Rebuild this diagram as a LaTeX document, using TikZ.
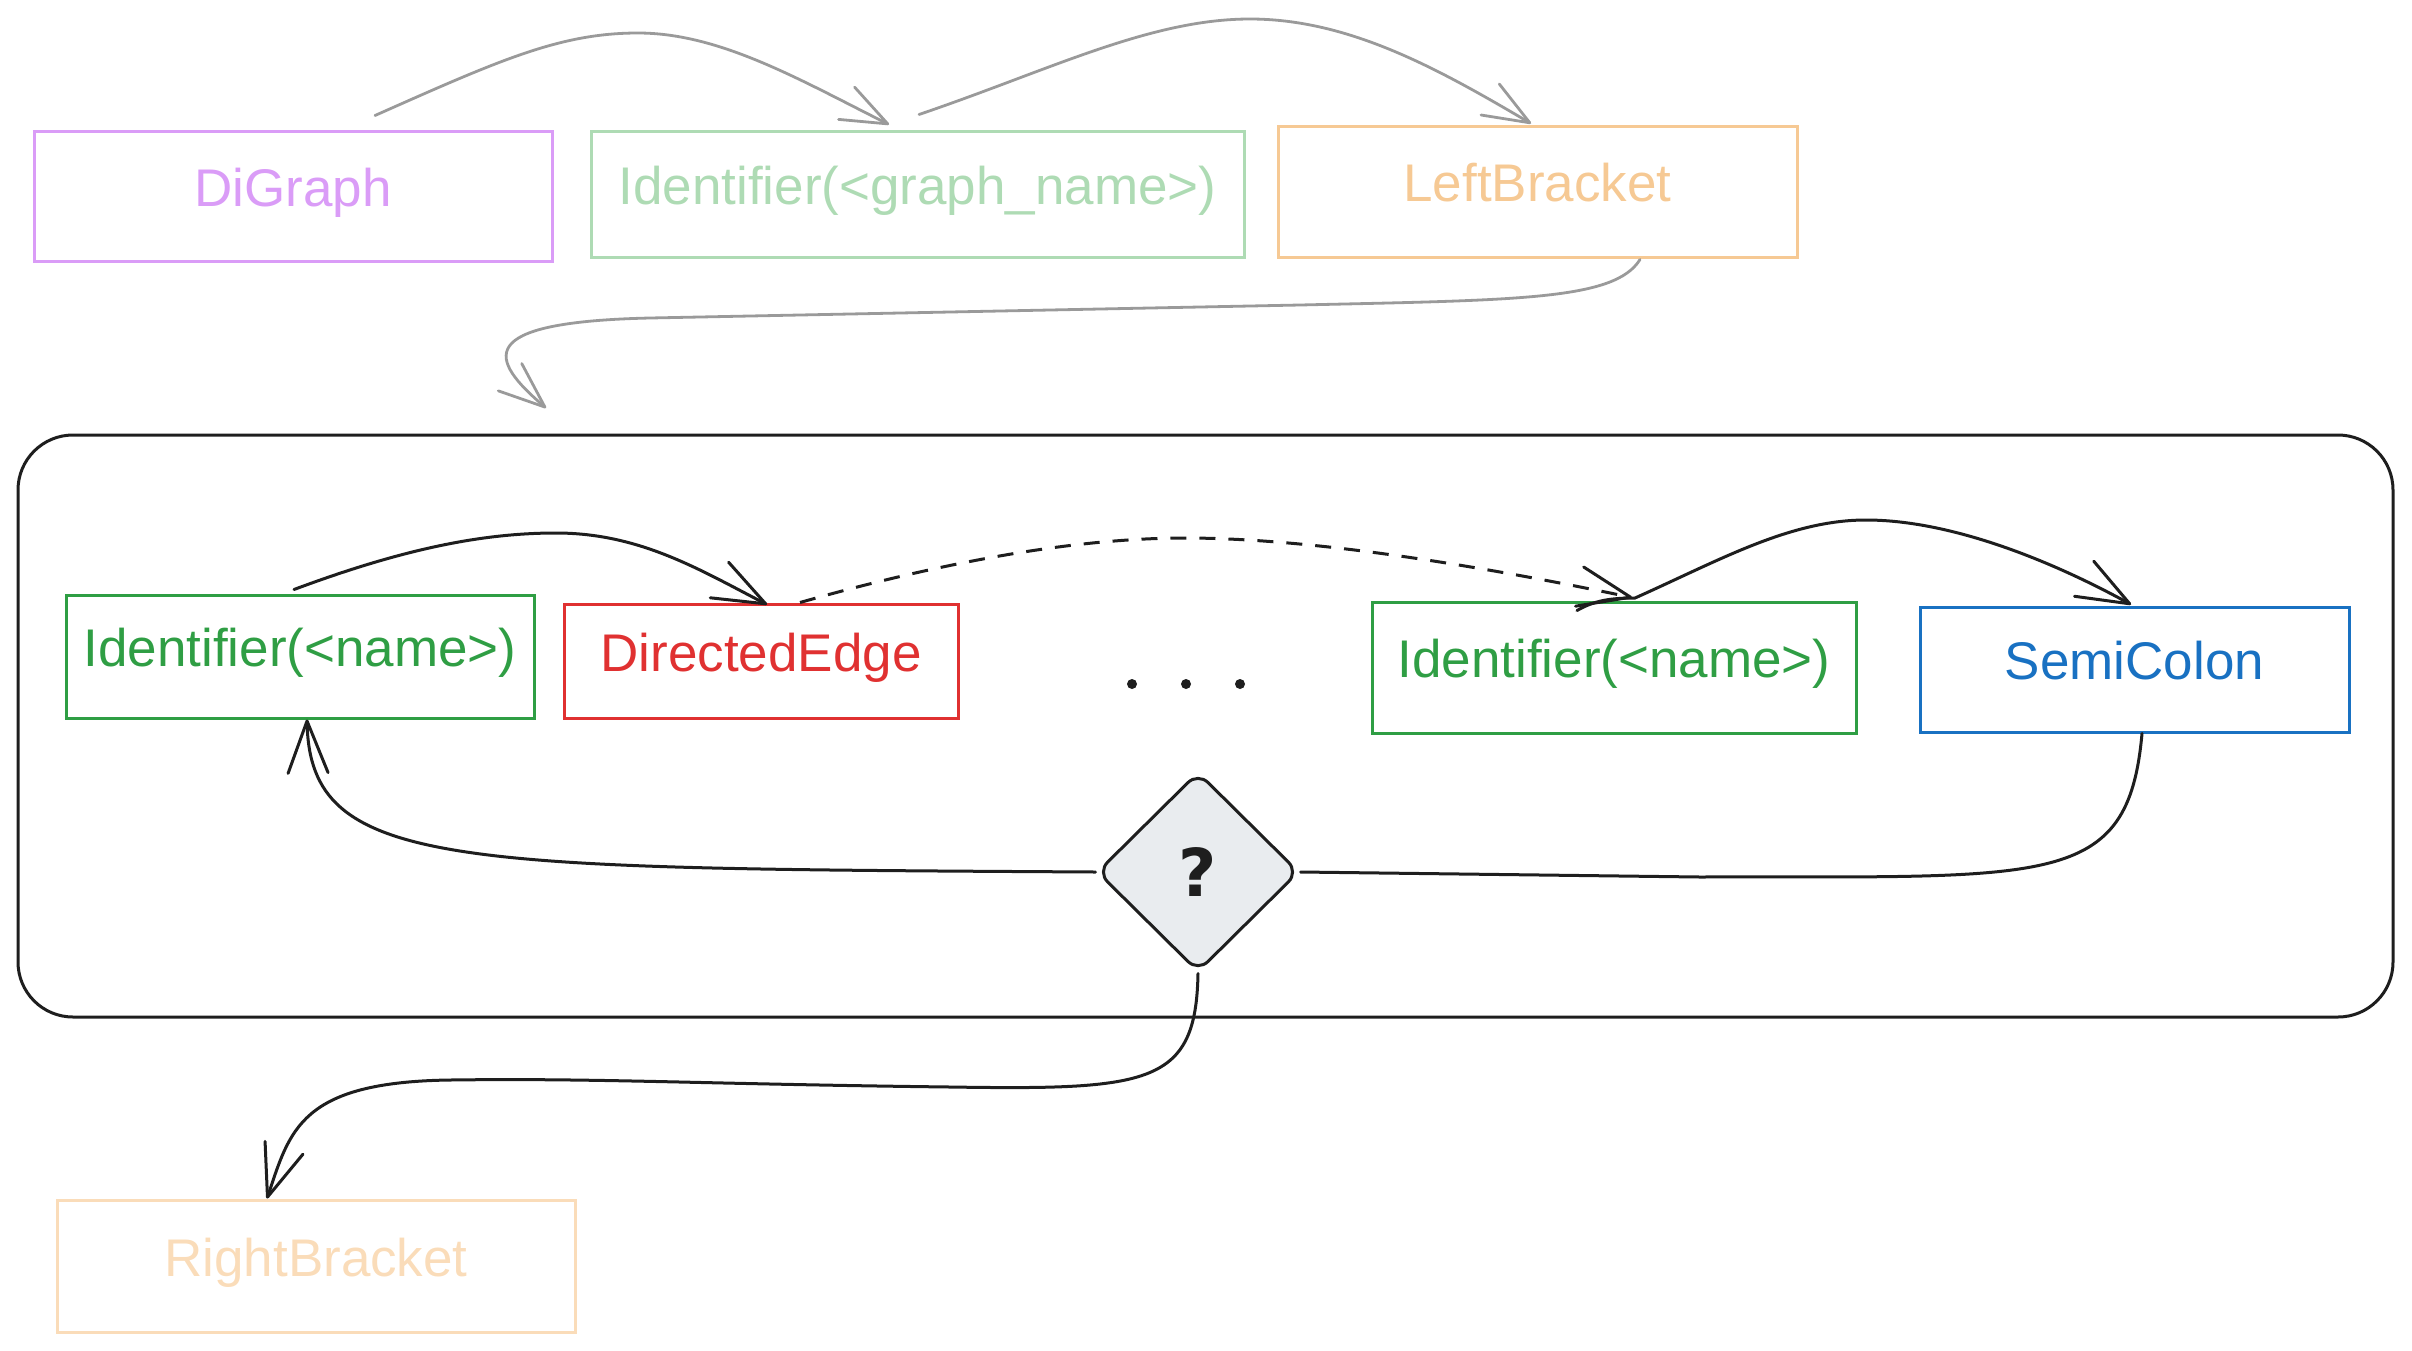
\documentclass[tikz,border=0pt]{standalone}
\usepackage{fontspec}
\setmainfont{Liberation Sans}
\newfontfamily\qfont{DejaVu Sans}
\usetikzlibrary{arrows.meta,shapes.geometric}
\definecolor{ink}{HTML}{1E1E1E}
\definecolor{arrgray}{HTML}{9A9A9A}
\definecolor{cviolet}{HTML}{DA9CF7}
\definecolor{clgreen}{HTML}{AEDBB4}
\definecolor{clorange}{HTML}{F6C994}
\definecolor{cllorange}{HTML}{FADCB9}
\definecolor{cgreen}{HTML}{2F9E44}
\definecolor{cred}{HTML}{E03131}
\definecolor{cblue}{HTML}{1971C2}
\definecolor{diafill}{HTML}{E9ECEF}
\begin{document}
\begin{tikzpicture}[x=1pt,y=-1pt,
  box/.style={draw=#1, text=#1, line width=3pt, inner sep=0pt,
    text height=39pt, text depth=19pt, font=\fontsize{53pt}{60pt}\selectfont},
  garr/.style={draw=arrgray, line width=2.8pt, line cap=round,
    -{Straight Barb[length=46pt,width=36pt,round]}},
  karr/.style={draw=ink, line width=3pt, line cap=round,
    -{Straight Barb[length=52pt,width=40pt,round]}},
  kline/.style={draw=ink, line width=3pt, line cap=round},
  dotmark/.style={circle, fill=ink, minimum size=10pt, inner sep=0pt}
]
\useasboundingbox (0,0) rectangle (2412,1350);

% container
\node[draw=ink, line width=3pt, rounded corners=55pt, minimum width=2375pt,
      minimum height=582pt, inner sep=0pt] (grp) at (1205.5,726) {};

% top row
\node[box=cviolet, minimum width=518pt, minimum height=130pt] (digraph) at (293,196) {DiGraph};
\node[box=clgreen, minimum width=653pt, minimum height=126pt] (gname) at (917.5,194) {Identifier(<graph\_name>)};
\node[box=clorange, minimum width=519pt, minimum height=131pt] (lbr) at (1537.5,191.5) {LeftBracket};

% inner row
\node[box=cgreen, minimum width=468pt, minimum height=123pt] (id1) at (300,656.5) {Identifier(<name>)};
\node[box=cred, minimum width=394pt, minimum height=114pt] (de) at (761,661) {DirectedEdge};
\node[box=cgreen, minimum width=484pt, minimum height=131pt] (id2) at (1614,667.5) {Identifier(<name>)};
\node[box=cblue, minimum width=429pt, minimum height=125pt] (semi) at (2134.5,669.5) {SemiColon};

\node[dotmark] (dot1) at (1132,684) {};
\node[dotmark] (dot2) at (1186,684) {};
\node[dotmark] (dot3) at (1240,684) {};

% decision
\node[diamond, draw=ink, fill=diafill, line width=3pt, minimum width=202pt,
      minimum height=200pt, inner sep=0pt, rounded corners=14pt, text=ink,
      font=\qfont\bfseries\fontsize{66pt}{66pt}\selectfont] (dia) at (1198,872) {?};

% bottom
\node[box=cllorange, minimum width=518pt, minimum height=132pt] (rbr) at (316,1266) {RightBracket};

\coordinate (grpin) at (546,408);

% gray connectors
\draw[garr] ([xshift=82pt,yshift=14pt]digraph.north)
  .. controls (500,60) and (560,33) .. (638,33)
  .. controls (720,33) and (800,80) .. ([xshift=-28.5pt,yshift=5pt]gname.north);
\draw[garr] ([xshift=1.5pt,yshift=15pt]gname.north)
  .. controls (1050,70) and (1150,19) .. (1250,19)
  .. controls (1350,19) and (1440,70) .. ([xshift=-6.5pt,yshift=1pt]lbr.north);
\draw[garr] ([xshift=102.5pt,yshift=-1pt]lbr.south)
  .. controls (1615,300) and (1520,300) .. (1300,305)
  -- (650,318)
  .. controls (470,322) and (490,360) .. (grpin);

% inner connectors
\draw[karr] ([xshift=-6pt,yshift=4pt]id1.north)
  .. controls (400,550) and (480,533) .. (556,533)
  .. controls (640,533) and (700,570) .. ([xshift=6pt,yshift=-2pt]de.north);
\draw[karr, dash pattern=on 16pt off 13pt, line cap=butt] ([xshift=39pt]de.north)
  .. controls (950,560) and (1080,538) .. (1185,538)
  .. controls (1320,538) and (1500,570) .. ([xshift=18pt,yshift=3pt]id2.north);
\draw[karr] ([xshift=-37pt,yshift=-10pt]id2.north)
  .. controls (1595,600) and (1612,598) .. (1635,598)
  .. controls (1720,560) and (1790,520) .. (1866,520)
  .. controls (1950,520) and (2050,560) .. ([xshift=-3.5pt,yshift=1pt]semi.north);

% decision connectors
\draw[karr] (dia.west)
  .. controls (450,868) and (310,870) .. ([xshift=7pt]id1.south);
\draw[kline] ([xshift=7.5pt]semi.south)
  .. controls (2128,890) and (2050,876) .. (1700,877) -- (dia.east);
\draw[karr] (dia.south)
  .. controls (1196,1085) and (1150,1090) .. (950,1087)
  .. controls (700,1084) and (600,1078) .. (450,1080)
  .. controls (300,1082) and (290,1130) .. ([xshift=-49pt]rbr.north);
\end{tikzpicture}
\end{document}
